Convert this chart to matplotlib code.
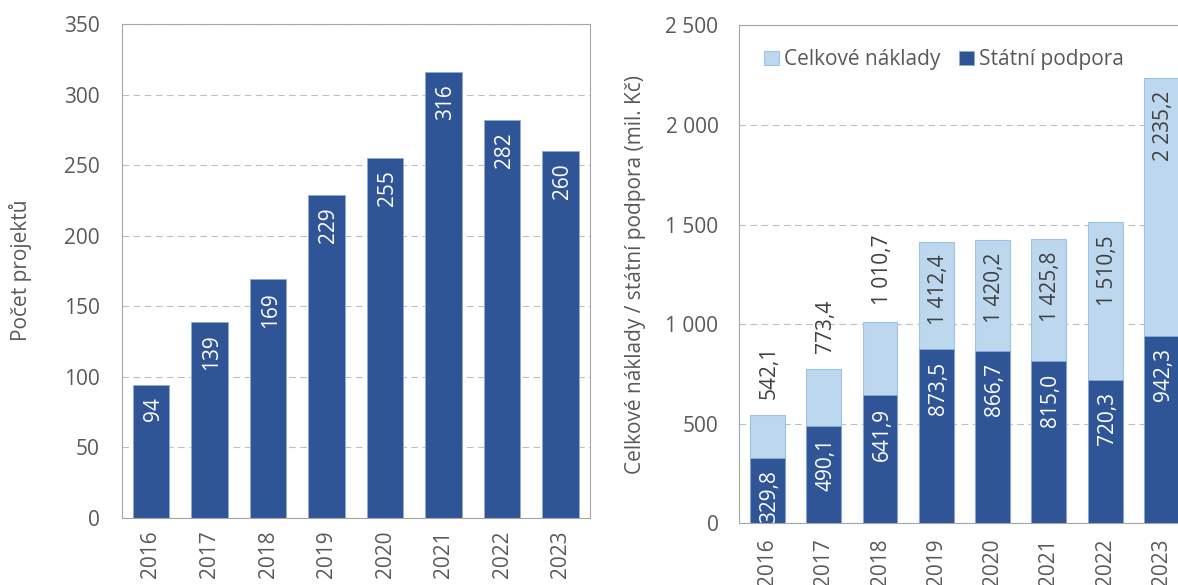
import matplotlib
matplotlib.use("Agg")
import matplotlib.pyplot as plt
from matplotlib.ticker import FuncFormatter, MultipleLocator

# --- data ---------------------------------------------------------------
years = ["2016", "2017", "2018", "2019", "2020", "2021", "2022", "2023"]
project_counts = [94, 139, 169, 229, 255, 316, 282, 260]
total_costs = [542.1, 773.4, 1010.7, 1412.4, 1420.2, 1425.8, 1510.5, 2235.2]
state_support = [329.8, 490.1, 641.9, 873.5, 866.7, 815.0, 720.3, 942.3]

# --- style ----------------------------------------------------------------
plt.rcParams["font.family"] = ["Open Sans", "DejaVu Sans"]
FS = 15
DARK = "#2F5597"
LIGHT = "#BDD7EE"
TEXT = "#595959"
LABEL_DARK = "#404040"


def cz_number(v, decimals=1):
    s = f"{v:,.{decimals}f}"
    return s.replace(",", " ").replace(".", ",")


def style_axes(ax, ymax, step, ypad, xpad):
    ax.set_xlim(-0.5, len(years) - 0.5)
    ax.set_ylim(0, ymax)
    ax.yaxis.set_major_locator(MultipleLocator(step))
    ax.set_xticks(range(len(years)))
    ax.set_xticklabels(years, rotation=90)
    for s in ax.spines.values():
        s.set_color("#A6A6A6")
        s.set_linewidth(0.8)
    ax.tick_params(length=0, colors=TEXT, labelsize=FS)
    ax.tick_params(axis="y", pad=ypad)
    ax.tick_params(axis="x", pad=xpad)
    ax.grid(axis="y", color="#BFBFBF", linestyle=(0, (6, 4)), linewidth=0.8)
    ax.set_axisbelow(True)


fig = plt.figure(figsize=(11.78, 5.85), dpi=100)
ax1 = fig.add_axes([0.1033, 0.1151, 0.3975, 0.8439])
ax2 = fig.add_axes([0.6276, 0.1055, 0.3822, 0.8510])

x = list(range(len(years)))

# --- left panel: number of projects -------------------------------------
style_axes(ax1, 350, 50, ypad=16, xpad=9)
ax1.bar(x, project_counts, width=0.626, color=DARK, edgecolor="#8FAADC",
        linewidth=0.6)
for i, v in enumerate(project_counts):
    ax1.annotate(str(v), (i, v), xytext=(1.5, -9), textcoords="offset points",
                 rotation=90, ha="center", va="top", color="white", fontsize=FS)
fig.text(21 / 1178, 1 - 270 / 585, "Počet projektů", rotation=90,
         ha="center", va="center", color=TEXT, fontsize=FS)

# --- right panel: total costs vs. state support -------------------------
style_axes(ax2, 2500, 500, ypad=15, xpad=11)
ax2.yaxis.set_major_formatter(FuncFormatter(lambda v, p: cz_number(v, 0)))
h_total = ax2.bar(x, total_costs, width=0.62, color=LIGHT, edgecolor="#9DC3E6",
                  linewidth=0.8)
h_support = ax2.bar(x, state_support, width=0.62, color=DARK,
                    edgecolor="#8FAADC", linewidth=0.6)

for i, (tot, sup) in enumerate(zip(total_costs, state_support)):
    ax2.annotate(cz_number(sup), (i, sup), xytext=(1.5, -9),
                 textcoords="offset points", rotation=90, ha="center",
                 va="top", color="white", fontsize=FS)
    if tot - sup >= 500:
        ax2.annotate(cz_number(tot), (i, tot), xytext=(1.5, -9),
                     textcoords="offset points", rotation=90, ha="center",
                     va="top", color=LABEL_DARK, fontsize=FS)
    else:
        ax2.annotate(cz_number(tot), (i, tot), xytext=(1.5, 12),
                     textcoords="offset points", rotation=90, ha="center",
                     va="bottom", color=LABEL_DARK, fontsize=FS)

ax2.legend([h_total, h_support], ["Celkové náklady", "Státní podpora"],
           loc="upper left", bbox_to_anchor=(0.0549, 0.952), ncol=2,
           frameon=False, fontsize=FS, handlelength=0.7, handleheight=0.7,
           handletextpad=0.25, columnspacing=0.9, borderpad=0,
           borderaxespad=0, labelcolor=TEXT)
fig.text(636 / 1178, 1 - 274 / 585,
         "Celkové náklady / státní podpora (mil. Kč)", rotation=90,
         ha="center", va="center", color=TEXT, fontsize=FS)

fig.savefig("out.png", dpi=100)
